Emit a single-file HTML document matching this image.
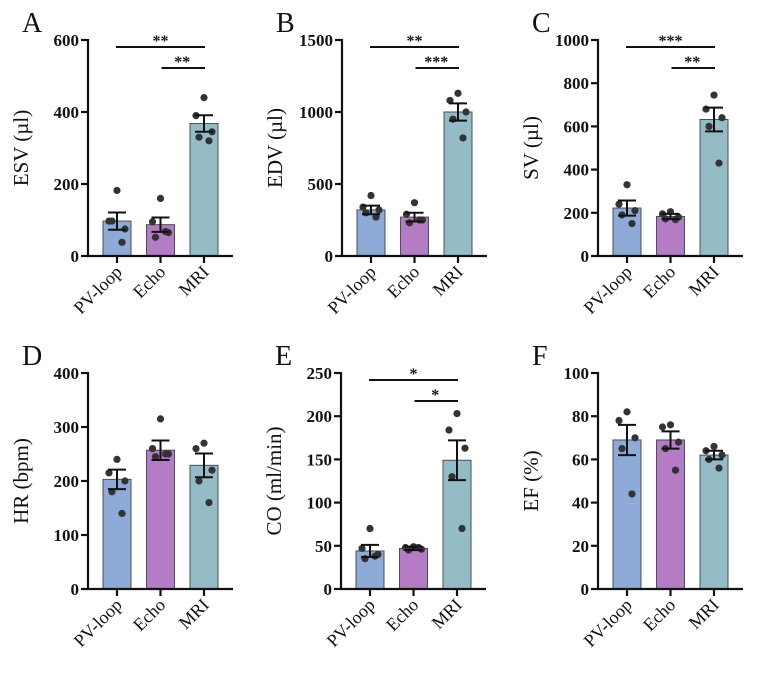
<!DOCTYPE html>
<html><head><meta charset="utf-8">
<style>
html,body{margin:0;padding:0;background:#fff;}
svg{display:block;}
text{font-family:"Liberation Serif",serif;fill:#111;}
.tick{font-weight:bold;font-size:17px;}
.ylab{font-size:21px;}
.xlab{font-size:18px;}
.plab{font-size:28px;}
.star{font-weight:bold;font-size:16px;}
</style></head>
<body>
<svg id="fig" width="758" height="676" viewBox="0 0 758 676" xmlns="http://www.w3.org/2000/svg"></svg>
<script>
const categories = ["PV-loop","Echo","MRI"];
const colors = ["#8eaad6","#b37cc4","#93bcc6"];
// panel A ESV
const esvMeans = [97, 87, 368];
const esvSem = [24, 20, 23];
const esvPts = [[182,97,75,97,38],[160,95,65,52,68],[440,390,345,330,320]];
const esvTicks = [0,200,400,600];
// panel B EDV
const edvMeans = [320, 270, 1000];
const edvSem = [30, 30, 60];
const edvPts = [[420,340,320,300,270],[370,290,250,230,250],[1130,1080,1000,950,820]];
const edvTicks = [0,500,1000,1500];
// panel C SV
const svMeans = [222, 183, 632];
const svSem = [35, 12, 55];
const svPts = [[330,240,210,190,150],[205,195,180,172,168],[745,680,640,600,430]];
const svTicks = [0,200,400,600,800,1000];
// panel D HR
const hrMeans = [203, 257, 229];
const hrSem = [18, 18, 22];
const hrPts = [[240,215,200,180,140],[315,260,250,245,250],[270,260,220,200,160]];
const hrTicks = [0,100,200,300,400];
// panel E CO
const coMeans = [44, 47, 149];
const coSem = [7, 2, 23];
const coPts = [[70,47,40,35,38],[49,48,46,45,48],[203,184,163,130,70]];
const coTicks = [0,50,100,150,200,250];
// panel F EF
const efMeans = [69, 69, 62];
const efSem = [7, 4, 2];
const efPts = [[82,78,70,65,44],[76,75,68,65,55],[66,64,62,60,56]];
const efTicks = [0,20,40,60,80,100];

const panels = [
 {id:"a",letter:"A",ylabel:"ESV (µl)",x0:88,top:40,bot:256,means:esvMeans,sem:esvSem,pts:esvPts,ticks:esvTicks,sig:["**","**"]},
 {id:"b",letter:"B",ylabel:"EDV (µl)",x0:342,top:40,bot:256,means:edvMeans,sem:edvSem,pts:edvPts,ticks:edvTicks,sig:["**","***"]},
 {id:"c",letter:"C",ylabel:"SV (µl)",x0:598,top:40,bot:256,means:svMeans,sem:svSem,pts:svPts,ticks:svTicks,sig:["***","**"]},
 {id:"d",letter:"D",ylabel:"HR (bpm)",x0:88,top:373,bot:589,means:hrMeans,sem:hrSem,pts:hrPts,ticks:hrTicks,sig:null},
 {id:"e",letter:"E",ylabel:"CO (ml/min)",x0:341,top:373,bot:589,means:coMeans,sem:coSem,pts:coPts,ticks:coTicks,sig:["*","*"]},
 {id:"f",letter:"F",ylabel:"EF (%)",x0:598,top:373,bot:589,means:efMeans,sem:efSem,pts:efPts,ticks:efTicks,sig:null}
];
const jitter = [0,-8,8,-5,5];
const svg = document.getElementById('fig');
const NS = "http://www.w3.org/2000/svg";
function mk(tag, attrs, parent){const e=document.createElementNS(NS,tag);for(const k in attrs)e.setAttribute(k,attrs[k]);parent.appendChild(e);return e;}

panels.forEach(p=>{
  const g = mk('g',{},svg);
  
  
  const max = p.ticks[p.ticks.length-1];
  const y = v => p.bot - v/max*(p.bot-p.top);
  const xc = i => p.x0 + 29 + i*43.5;
  const L = mk('text',{x:p.x0-66,y:p.top-8,class:'plab'},g); L.textContent=p.letter;
   
  const yl = mk('text',{x:0,y:0,class:'ylab','text-anchor':'middle',transform:`translate(${p.x0-60},${(p.top+p.bot)/2}) rotate(-90)`},g);
  yl.textContent=p.ylabel;
   
  p.means.forEach((m,i)=>{
    const r = mk('rect',{x:xc(i)-14,y:y(m),width:28,height:p.bot-y(m),fill:colors[i],stroke:'#4a4f55','stroke-width':1},g);
    
    
  });
  p.pts.forEach((arr,i)=>{
    arr.forEach((v,j)=>{
      const c = mk('circle',{cx:xc(i)+jitter[j],cy:y(v),r:3.6,fill:'#333'},g);
      
      
    });
  });
  p.means.forEach((m,i)=>{
    const eg = mk('g',{stroke:'#111','stroke-width':2},g);
    
    
    mk('line',{x1:xc(i),x2:xc(i),y1:y(m+p.sem[i]),y2:y(m-p.sem[i])},eg);
    mk('line',{x1:xc(i)-9,x2:xc(i)+9,y1:y(m+p.sem[i]),y2:y(m+p.sem[i])},eg);
    mk('line',{x1:xc(i)-9,x2:xc(i)+9,y1:y(m-p.sem[i]),y2:y(m-p.sem[i])},eg);
  });
  const ax = mk('g',{stroke:'#111','stroke-width':2.2},g);
   
  mk('line',{x1:p.x0,x2:p.x0,y1:p.top-1,y2:p.bot+1},ax);
  mk('line',{x1:p.x0-1,x2:p.x0+145,y1:p.bot,y2:p.bot},ax);
  p.ticks.forEach(t=>{
    mk('line',{x1:p.x0-7,x2:p.x0,y1:y(t),y2:y(t)},ax);
    const tl = mk('text',{x:p.x0-9,y:y(t)+6,class:'tick','text-anchor':'end'},g);
    tl.textContent=t;
     
  });
  categories.forEach((c,i)=>{
    mk('line',{x1:xc(i),x2:xc(i),y1:p.bot,y2:p.bot+7},ax);
    const xl = mk('text',{x:0,y:0,class:'xlab','text-anchor':'end',transform:`translate(${xc(i)+6},${p.bot+17}) rotate(-45)`},g);
    xl.textContent=c;
     
  });
  if(p.sig){
    const sg = mk('g',{},g);
     
    const y1=p.top+7, y2=p.top+28;
    mk('line',{x1:xc(0)-1,x2:xc(2)+1,y1:y1,y2:y1,stroke:'#111','stroke-width':2},sg);
    mk('line',{x1:xc(1)+1,x2:xc(2)+1,y1:y2,y2:y2,stroke:'#111','stroke-width':2},sg);
    const s1=mk('text',{x:(xc(0)+xc(2))/2,y:y1-1,class:'star','text-anchor':'middle'},sg); s1.textContent=p.sig[0];
    const s2=mk('text',{x:(xc(1)+xc(2))/2,y:y2-1,class:'star','text-anchor':'middle'},sg); s2.textContent=p.sig[1];
  }
});
</script>
</body></html>
